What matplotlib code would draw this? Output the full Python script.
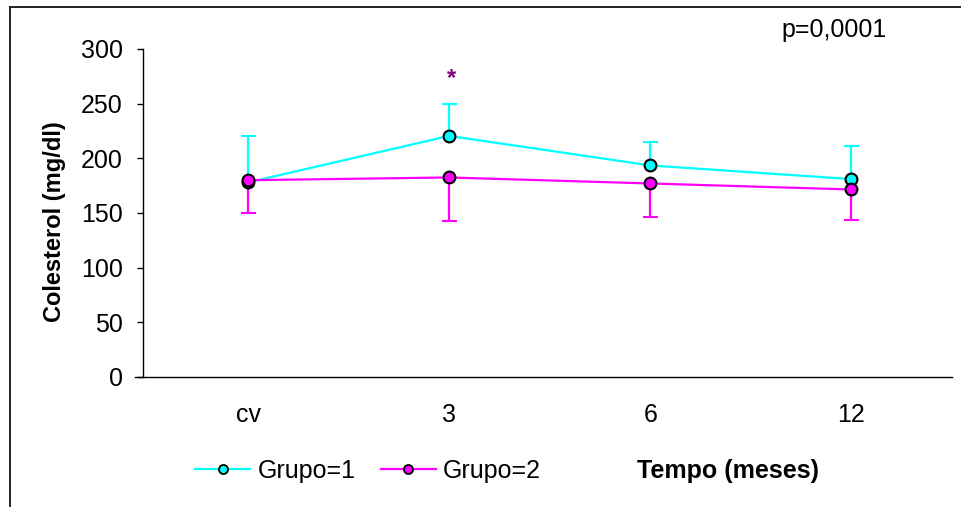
import numpy as np
import matplotlib
matplotlib.use("Agg")
import matplotlib.pyplot as plt
from matplotlib.lines import Line2D

plt.rcParams['font.family'] = ['Liberation Sans', 'DejaVu Sans']

# dados
tempos = ['cv', '3', '6', '12']
grupo1_media = [178, 220.5, 193.5, 181]
grupo1_dp = [42, 29, 21, 30]
grupo2_media = [180, 182.5, 177, 171.5]
grupo2_dp = [30, 39.5, 30.5, 28]

x = np.arange(len(tempos))

fig = plt.figure(figsize=(9.61, 5.07), dpi=100)
ax = fig.add_axes([135/961, 130/507, 817/961, 328/507])

zeros = np.zeros(len(tempos))
handles = []
for media, dp, cor, lado, nome in [(grupo1_media, grupo1_dp, '#00FFFF', 'up', 'Grupo=1'),
                                   (grupo2_media, grupo2_dp, '#FF00FF', 'down', 'Grupo=2')]:
    if lado == 'up':
        yerr = [zeros, dp]
    else:
        yerr = [dp, zeros]
    ln, caps, bars = ax.errorbar(x, media, yerr=yerr, color=cor, lw=1.6, ecolor=cor,
                                 elinewidth=1.6, capsize=5.4, capthick=1.6,
                                 marker='o', ms=8.5, mfc=cor, mec='black', mew=1.5)
    # esconde o cap do lado sem erro
    if lado == 'up':
        caps[0].set_visible(False)
    else:
        caps[1].set_visible(False)
    handles.append(Line2D([], [], color=cor, lw=1.6, marker='o', ms=6.5, mfc=cor,
                          mec='black', mew=1.3, label=nome))

ax.set_xlim(-0.562, 3.5)
ax.set_ylim(0, 300)
ax.set_yticks(np.arange(0, 301, 50))
ax.set_xticks(x)
ax.set_xticklabels(tempos)
ax.spines['top'].set_visible(False)
ax.spines['right'].set_visible(False)
ax.spines['left'].set_position(('data', -0.522))
ax.spines['left'].set_linewidth(1.0)
ax.spines['bottom'].set_linewidth(1.0)
ax.tick_params(axis='y', direction='out', length=4.5, width=1.0, labelsize=18, pad=10)
ax.tick_params(axis='x', length=0, labelsize=18, pad=19)

# asterisco
ax.text(1.01, 273, '*', color='#800080', fontsize=17, fontweight='bold',
        ha='center', va='center')

fig.text(55/961, 0.563, 'Colesterol (mg/dl)', rotation=90, fontsize=17,
         fontweight='bold', ha='center', va='center')
fig.text(0.758, 0.071, 'Tempo (meses)', fontsize=18, fontweight='bold',
         ha='center', va='center')
fig.text(0.8684, 0.941, 'p=0,0001', fontsize=18, ha='center', va='center')

fig.legend(handles=handles, loc='center left', bbox_to_anchor=(195/961, 0.071), ncol=2,
           frameon=False, fontsize=18, borderpad=0, borderaxespad=0, handlelength=2.2,
           handletextpad=0.3, columnspacing=1.0)

# moldura
fig.add_artist(Line2D([9.5/961, 9.5/961], [0, 1 - 6.5/507], color='#222222', lw=1.4,
                      transform=fig.transFigure))
fig.add_artist(Line2D([9.5/961, 1], [1 - 6.5/507, 1 - 6.5/507], color='#222222', lw=1.4,
                      transform=fig.transFigure))

fig.savefig('out.png', dpi=100)
